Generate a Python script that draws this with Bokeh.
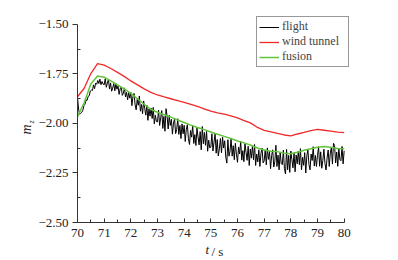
from bokeh.plotting import figure
from bokeh.models import FixedTicker, Legend, LegendItem, Range1d, Title
from bokeh.embed import file_html
from bokeh.resources import INLINE

# ---------------- data ----------------
t_smooth = [70.00, 70.25, 70.50, 70.75, 71.00, 71.25, 71.50, 71.75, 72.00, 72.25,
            72.50, 72.75, 73.00, 73.25, 73.50, 73.75, 74.00, 74.25, 74.50, 74.75,
            75.00, 75.25, 75.50, 75.75, 76.00, 76.25, 76.50, 76.75, 77.00, 77.25,
            77.50, 77.75, 78.00, 78.25, 78.50, 78.75, 79.00, 79.25, 79.50, 79.75, 80.00]

wind_tunnel = [-1.865, -1.822, -1.748, -1.698, -1.705, -1.722, -1.742, -1.762, -1.785, -1.805,
               -1.825, -1.843, -1.856, -1.866, -1.875, -1.884, -1.893, -1.904, -1.914, -1.926,
               -1.938, -1.946, -1.953, -1.961, -1.972, -1.985, -1.998, -2.020, -2.035, -2.042,
               -2.050, -2.058, -2.063, -2.053, -2.045, -2.036, -2.030, -2.034, -2.038, -2.044, -2.046]

fusion = [-1.966, -1.895, -1.800, -1.760, -1.766, -1.785, -1.805, -1.825, -1.848, -1.875,
          -1.903, -1.928, -1.943, -1.956, -1.968, -1.982, -1.995, -2.008, -2.020, -2.031,
          -2.043, -2.054, -2.065, -2.076, -2.088, -2.098, -2.110, -2.124, -2.134, -2.140,
          -2.142, -2.150, -2.153, -2.145, -2.135, -2.128, -2.120, -2.116, -2.120, -2.126, -2.128]

# flight record, one sample every 0.04 s from 70.00 s to 80.00 s
flight = [
    -1.867, -1.927, -1.953, -1.949, -1.944, -1.933, -1.910, -1.903, -1.881, -1.883,
    -1.863, -1.860, -1.836, -1.831, -1.833, -1.805, -1.824, -1.796, -1.802, -1.783,
    -1.798, -1.776, -1.804, -1.788, -1.801,
    -1.805, -1.774, -1.817, -1.796, -1.777, -1.826, -1.795, -1.837, -1.821, -1.798,
    -1.835, -1.799, -1.827, -1.811, -1.853, -1.825, -1.815, -1.858, -1.848, -1.820,
    -1.866, -1.843, -1.880, -1.843, -1.872,
    -1.843, -1.910, -1.864, -1.848, -1.906, -1.931, -1.878, -1.908, -1.861, -1.938,
    -1.904, -1.951, -1.886, -1.923, -1.958, -1.907, -1.984, -1.926, -1.963, -1.922,
    -1.975, -1.919, -2.002, -1.958, -1.990,
    -1.992, -1.932, -2.010, -1.971, -1.935, -2.025, -1.964, -2.039, -1.925, -1.963,
    -2.028, -1.959, -2.010, -1.979, -2.054, -1.998, -1.977, -2.051, -2.030, -1.976,
    -2.055, -2.010, -2.076, -2.002, -2.052,
    -2.009, -2.091, -2.029, -2.006, -2.077, -2.106, -2.035, -2.069, -2.009, -2.101,
    -2.056, -2.111, -2.023, -2.068, -2.108, -2.041, -2.133, -2.015, -2.102, -2.045,
    -2.110, -2.039, -2.140, -2.084, -2.123,
    -2.119, -2.052, -2.139, -2.093, -2.051, -2.150, -2.081, -2.164, -2.128, -2.076,
    -2.148, -2.069, -2.124, -2.087, -2.170, -2.200, -2.082, -2.165, -2.139, -2.076,
    -2.165, -2.112, -2.183, -2.100, -2.155,
    -2.196, -2.119, -2.154, -2.089, -2.185, -2.137, -2.193, -2.101, -2.145, -2.186,
    -2.115, -2.212, -2.129, -2.175, -2.114, -2.183, -2.106, -2.212, -2.154, -2.194,
    -2.133, -2.217, -2.152, -2.124, -2.199,
    -2.189, -2.133, -2.209, -2.123, -2.181, -2.142, -2.228, -2.162, -2.133, -2.220,
    -2.192, -2.110, -2.217, -2.160, -2.234, -2.144, -2.202, -2.208, -2.135, -2.228,
    -2.255, -2.131, -2.234, -2.161, -2.247,
    -2.139, -2.183, -2.224, -2.148, -2.244, -2.159, -2.203, -2.140, -2.208, -2.127,
    -2.234, -2.171, -2.211, -2.147, -2.250, -2.163, -2.133, -2.207, -2.234, -2.154,
    -2.187, -2.117, -2.215, -2.161, -2.217,
    -2.162, -2.117, -2.216, -2.143, -2.226, -2.187, -2.130, -2.202, -2.235, -2.174,
    -2.134, -2.217, -2.150, -2.121, -2.205, -2.100, -2.111, -2.199, -2.144, -2.216,
    -2.126, -2.182, -2.188, -2.116, -2.204, -2.138]
t_flight = [round(70 + 0.04 * i, 2) for i in range(len(flight))]

x_ticks = [70, 71, 72, 73, 74, 75, 76, 77, 78, 79, 80]
x_minor = [70.5, 71.5, 72.5, 73.5, 74.5, 75.5, 76.5, 77.5, 78.5, 79.5]
y_ticks = [-2.5, -2.25, -2.0, -1.75, -1.5]
y_minor = [-2.375, -2.125, -1.875, -1.625]
y_tick_labels = ["\u22122.50", "\u22122.25", "\u22122.00", "\u22121.75", "\u22121.50"]
series_names = ["flight", "wind tunnel", "fusion"]

FONT = "Liberation Serif, Times New Roman, serif"
INK = "#222222"

p = figure(width=395, height=258, output_backend="svg", toolbar_location=None,
           x_range=Range1d(70, 80.2), y_range=Range1d(-2.5, -1.4596),
           min_border_left=77, min_border_right=46, min_border_top=16, min_border_bottom=36)
p.outline_line_color = None
p.grid.visible = False
p.background_fill_color = "white"
p.border_fill_color = "white"

r_flight = p.line(t_flight, flight, line_color="black", line_width=1)
r_wind = p.line(t_smooth, wind_tunnel, line_color="#f02a2a", line_width=1.3)
r_fus = p.line(t_smooth, fusion, line_color="#62c43a", line_width=1.5)

# axes
xa = p.xaxis[0]
xa.ticker = FixedTicker(ticks=x_ticks, minor_ticks=x_minor)
xa.bounds = (70, 80)
xa.major_tick_in = 4
xa.major_tick_out = 0
xa.minor_tick_in = 3
xa.minor_tick_out = 0
xa.major_label_standoff = 6
ya = p.yaxis[0]
ya.ticker = FixedTicker(ticks=y_ticks, minor_ticks=y_minor)
ya.bounds = (-2.5, -1.5)
ya.major_label_overrides = {v: s for v, s in zip(y_ticks, y_tick_labels)}
ya.major_tick_in = 0
ya.major_tick_out = 5
ya.minor_tick_in = 3
ya.minor_tick_out = 0
ya.major_label_standoff = 4
for ax in (xa, ya):
    ax.axis_line_color = "#333333"
    ax.major_tick_line_color = "#333333"
    ax.minor_tick_line_color = "#333333"
    ax.major_label_text_font = FONT
    ax.major_label_text_font_size = "13px"
    ax.major_label_text_color = INK

# axis titles: m_z on the left, t / s below
p.add_layout(Title(text="z", text_font=FONT, text_font_size="8px", text_font_style="italic",
                   text_color=INK, align="left", offset=99, standoff=0), "left")
p.add_layout(Title(text="m", text_font=FONT, text_font_size="14px", text_font_style="italic",
                   text_color=INK, align="left", offset=88, standoff=-18), "left")
p.add_layout(Title(text="t", text_font=FONT, text_font_size="13px", text_font_style="italic",
                   text_color=INK, align="left", offset=128, standoff=0), "below")
p.add_layout(Title(text="/ s", text_font=FONT, text_font_size="13px", text_font_style="normal",
                   text_color=INK, align="left", offset=134, standoff=-26,
                   vertical_align="top"), "below")

legend = Legend(items=[LegendItem(label=series_names[0], renderers=[r_flight]),
                       LegendItem(label=series_names[1], renderers=[r_wind]),
                       LegendItem(label=series_names[2], renderers=[r_fus])],
                location="top_right")
legend.label_text_font = FONT
legend.label_text_font_size = "12px"
legend.label_height = 10
legend.label_width = 64
legend.glyph_height = 10
legend.glyph_width = 20
legend.label_standoff = 3
legend.spacing = 0
legend.padding = 2
legend.margin = 0
legend.border_line_color = "#333333"
legend.border_line_width = 1
legend.background_fill_alpha = 1
p.add_layout(legend, "center")

open("out.html", "w").write(file_html(p, INLINE))
